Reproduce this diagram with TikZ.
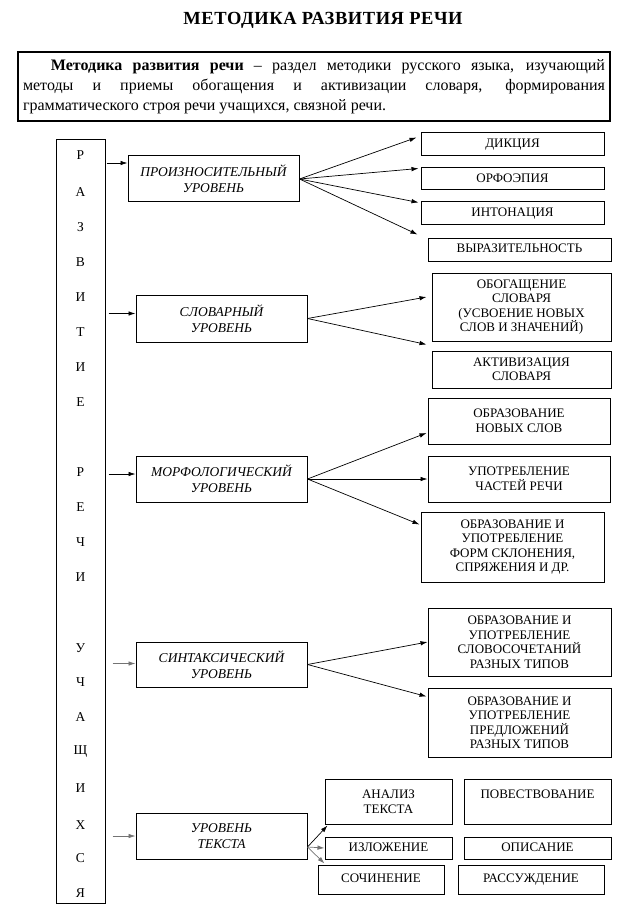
\documentclass[tikz,border=0pt]{standalone}
\usepackage{fontspec}
\setmainfont{Liberation Serif}
\usetikzlibrary{arrows.meta,calc}
\begin{document}
\begin{tikzpicture}[x=1pt,y=-1pt,
 box/.style={draw, line width=1pt, inner sep=1pt, align=center, font=\fontsize{13}{14.5}\selectfont},
 one/.style={box, text height=9pt, text depth=2.5pt},
 lvl/.style={box, minimum width=171pt, minimum height=46pt, font=\fontsize{13.5}{16}\itshape\selectfont},
 letter/.style={font=\fontsize{13.5}{14}\selectfont, inner sep=0pt},
 arr/.style={-{Latex[length=7pt,width=4.5pt]}, line width=0.7pt},
 garr/.style={arr, draw=black!55},
]
\useasboundingbox (0,0) rectangle (626,909);

\node[font=\fontsize{18.5}{22}\bfseries\selectfont] (title) at (323,20) {\addfontfeature{LetterSpace=3}МЕТОДИКА РАЗВИТИЯ РЕЧИ};

\node[draw, line width=1.2pt, minimum width=592pt, minimum height=69pt, inner sep=0pt] (def) at (314,86.5)
 {\parbox{582pt}{\fontsize{16}{20}\selectfont\noindent
 \makebox[582pt][s]{\hspace*{28pt}\textbf{Методика развития речи} – раздел методики русского языка, изучающий}\\
 \makebox[582pt][s]{методы и приемы обогащения и активизации словаря, формирования}\\
 грамматического строя речи учащихся, связной речи.}};

% left vertical box
\node[draw, line width=1pt, minimum width=49pt, minimum height=763pt, inner sep=0pt] (L) at (80.5,521.5) {};
\foreach \ch/\yy [count=\i] in {Р/155,А/192,З/227,В/262,И/297,Т/332,И/367,Е/402,Р/472,Е/507,Ч/542,И/577,У/648,Ч/682,А/717,Щ/752,И/788,Х/825,С/858,Я/893}
  \node[letter] (v\i) at (80.5,\yy) {\ch};

% levels
\node[lvl] (l1) at (213.5,179) {ПРОИЗНОСИТЕЛЬНЫЙ\\УРОВЕНЬ};
\node[lvl, minimum height=47pt] (l2) at (221.5,318.5) {СЛОВАРНЫЙ\\УРОВЕНЬ};
\node[lvl] (l3) at (221.5,479) {МОРФОЛОГИЧЕСКИЙ\\УРОВЕНЬ};
\node[lvl, minimum height=45pt] (l4) at (221.5,664.5) {СИНТАКСИЧЕСКИЙ\\УРОВЕНЬ};
\node[lvl] (l5) at (221.5,836) {УРОВЕНЬ\\ТЕКСТА};

% right boxes
\node[one, minimum width=183pt, minimum height=23pt] (r1) at (512.5,144.5) {ДИКЦИЯ};
\node[one, minimum width=183pt, minimum height=22pt] (r2) at (512.5,179) {ОРФОЭПИЯ};
\node[one, minimum width=183pt, minimum height=23pt] (r3) at (512.5,213.5) {ИНТОНАЦИЯ};
\node[one, minimum width=183pt, minimum height=23pt] (r4) at (519.5,249.5) {ВЫРАЗИТЕЛЬНОСТЬ};
\node[box, minimum width=179pt, minimum height=68pt] (r5) at (521.5,307) {ОБОГАЩЕНИЕ\\СЛОВАРЯ\\(УСВОЕНИЕ НОВЫХ\\СЛОВ И ЗНАЧЕНИЙ)};
\node[box, minimum width=179pt, minimum height=37pt] (r6) at (521.5,369.5) {АКТИВИЗАЦИЯ\\СЛОВАРЯ};
\node[box, minimum width=182pt, minimum height=46pt] (r7) at (519,421) {ОБРАЗОВАНИЕ\\НОВЫХ СЛОВ};
\node[box, minimum width=182pt, minimum height=46pt] (r8) at (519,479) {УПОТРЕБЛЕНИЕ\\ЧАСТЕЙ РЕЧИ};
\node[box, minimum width=183pt, minimum height=70pt] (r9) at (512.5,547) {ОБРАЗОВАНИЕ И\\УПОТРЕБЛЕНИЕ\\ФОРМ СКЛОНЕНИЯ,\\СПРЯЖЕНИЯ И ДР.};
\node[box, minimum width=183pt, minimum height=68pt] (r10) at (519.5,642) {ОБРАЗОВАНИЕ И\\УПОТРЕБЛЕНИЕ\\СЛОВОСОЧЕТАНИЙ\\РАЗНЫХ ТИПОВ};
\node[box, minimum width=183pt, minimum height=69pt] (r11) at (519.5,722.5) {ОБРАЗОВАНИЕ И\\УПОТРЕБЛЕНИЕ\\ПРЕДЛОЖЕНИЙ\\РАЗНЫХ ТИПОВ};

% text level boxes
\node[box, minimum width=127pt, minimum height=45pt] (t1) at (388.5,801.5) {АНАЛИЗ\\ТЕКСТА};
\node[box, minimum width=147pt, minimum height=45pt] (t2) at (537.5,801.5) {ПОВЕСТВОВАНИЕ\\\phantom{Т}};
\node[one, minimum width=127pt, minimum height=22pt] (t3) at (388.5,848) {ИЗЛОЖЕНИЕ};
\node[one, minimum width=147pt, minimum height=22pt] (t4) at (537.5,848) {ОПИСАНИЕ};
\node[one, minimum width=126pt, minimum height=29pt] (t5) at (381,879.5) {СОЧИНЕНИЕ};
\node[one, minimum width=146pt, minimum height=29pt] (t6) at (531,879.5) {РАССУЖДЕНИЕ};

% input arrows
\coordinate (i1) at ($(l1.west)+(0,-16)$);
\coordinate (i2) at ($(l2.west)+(0,-5)$);
\coordinate (i3) at ($(l3.west)+(0,-5)$);
\coordinate (i4) at ($(l4.west)+(0,-1)$);
\coordinate (i5) at (l5.west);
\draw[arr, shorten <=1pt] (i1 -| L.east) -- (i1);
\draw[arr, shorten <=3pt] (i2 -| L.east) -- (i2);
\draw[arr, shorten <=3pt] (i3 -| L.east) -- (i3);
\draw[garr, shorten <=7pt] (i4 -| L.east) -- (i4);
\draw[garr, shorten <=7pt] (i5 -| L.east) -- (i5);

% fans
\draw[arr] (l1.east) -- ($(r1.north west)+(-4,5)$);
\draw[arr] (l1.east) -- ($(r2.north west)+(-2,1)$);
\draw[arr] (l1.east) -- ($(r3.north west)+(-2,1)$);
\draw[arr] (l1.east) -- ($(r4.north west)+(-10,-3)$);

\draw[arr] (l2.east) -- ($(r5.west)+(-5,-10)$);
\draw[arr] (l2.east) -- ($(r6.north west)+(-5,-6)$);

\draw[arr] (l3.east) -- ($(r7.west)+(-1,12)$);
\draw[arr] (l3.east) -- (r8.west);
\draw[arr] (l3.east) -- ($(r9.north west)+(-1,13)$);

\draw[arr] (l4.east) -- (r10.west);
\draw[arr] (l4.east) -- ($(r11.north west)+(-1,9)$);

\draw[arr] ($(l5.east)+(0,11)$) -- ($(t1.south west)+(3,1)$);
\draw[garr] ($(l5.east)+(0,11)$) -- (t3.west);
\draw[garr] ($(l5.east)+(0,11)$) -- ($(t5.north west)+(7,-1)$);
\end{tikzpicture}
\end{document}
